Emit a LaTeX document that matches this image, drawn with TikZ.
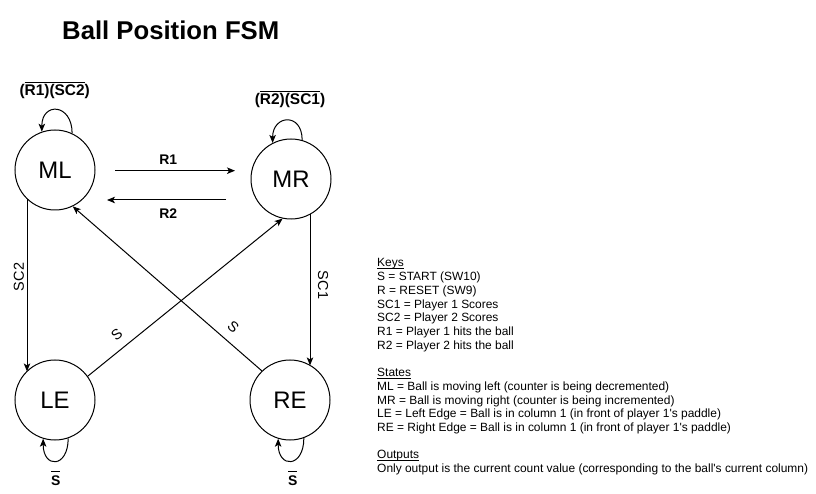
\documentclass[tikz,border=0pt]{standalone}
\usepackage{fontspec}
\setmainfont{Liberation Sans}[Ligatures=TeXOff]
\usetikzlibrary{arrows.meta}
\newcommand\ovl[2][1.8bp]{\leavevmode\vbox{\hrule height 0.9bp\kern #1\hbox{#2}}}
\newcommand\ulin[1]{\leavevmode\setbox0\hbox{#1}\rlap{\lower1.6bp\hbox to\wd0{\leaders\hrule height 0.7bp\hfill}}\box0}
\begin{document}
\begin{tikzpicture}[x=1bp,y=-1bp,
  state/.style={circle,draw,line width=1bp,minimum size=80bp,inner sep=0pt,
    font=\fontsize{24}{28}\selectfont},
  edge/.style={line width=1bp,-{Stealth[length=8bp,width=6.5bp,inset=2bp]}},
  looplbl/.style={font=\bfseries\fontsize{15.5}{18}\selectfont,inner sep=0pt,anchor=base},
  boldlbl/.style={font=\bfseries\fontsize{14}{16}\selectfont,inner sep=0pt,anchor=base},
  edgelbl/.style={font=\fontsize{14.5}{16}\selectfont,inner sep=0pt},
  keytext/.style={font=\fontsize{12}{14}\selectfont,inner sep=0pt,anchor=base west},
  titletext/.style={font=\bfseries\fontsize{25.8}{30}\selectfont,inner sep=0pt,anchor=base west}
]
\useasboundingbox[fill=white] (0,0) rectangle (816,494);

\node[titletext] (title) at (62,40) {Ball Position FSM};

\node[state] (ML) at (55,170) {ML};
\node[state] (MR) at (291,179) {MR};
\node[state] (LE) at (55,400) {LE};
\node[state] (RE) at (290,400) {RE};

% self loops
\draw[edge] (ML.65) .. controls +(0,-30) and +(0,-30) .. (ML.109);
\draw[edge] (MR.74) .. controls +(0,-28) and +(0,-28) .. (MR.117);
\draw[edge] (LE.-71) .. controls +(0,30) and +(0,30) .. (LE.-107);
\draw[edge] (RE.-70) .. controls +(0,30) and +(0,30) .. (RE.-107);

\node[looplbl] (lML) at (54.7,95.5) {(\ovl{R1)(SC2})};
\node[looplbl] (lMR) at (290,105) {(\ovl{R2)(SC1})};
\node[boldlbl] (lLE) at (55.7,485) {\ovl[3bp]{S}};
\node[boldlbl] (lRE) at (292.7,485) {\ovl[3bp]{S}};

% horizontal transitions
\coordinate (r1s) at (115,170.7);
\coordinate (r1e) at (235,170.7);
\coordinate (r2s) at (226,200);
\coordinate (r2e) at (107,200);
\draw[edge] (r1s) -- (r1e);
\draw[edge] (r2s) -- (r2e);
\node[boldlbl] (lR1) at (168.3,165) {R1};
\node[boldlbl] (lR2) at (168.3,218.3) {R2};

% vertical transitions
\path (ML.center) ++(-28,28.6) coordinate (sc2a) (LE.center) ++(-28,-28.6) coordinate (sc2b);
\draw[edge] (sc2a) -- (sc2b);
\path (MR.center) ++(19,35.2) coordinate (sc1a) (RE.center) ++(20,-34.6) coordinate (sc1b);
\draw[edge] (sc1a) -- (sc1b);
\node[edgelbl,rotate=90] (lSC2) at (19,277) {SC2};
\node[edgelbl,rotate=-90] (lSC1) at (323,285) {SC1};

% diagonal transitions
\draw[edge] (LE.36) -- (MR.258);
\draw[edge] (RE.134) -- (ML.-64);
\node[edgelbl,rotate=39] (lS1) at (116.7,335) {S};
\node[edgelbl,rotate=-41] (lS2) at (233.3,326.7) {S};

% legend
\foreach \t [count=\i] in {
  \ulin{Keys},
  S = START (SW10),
  R = RESET (SW9),
  SC1 = Player 1 Scores,
  SC2 = Player 2 Scores,
  R1 = Player 1 hits the ball,
  R2 = Player 2 hits the ball,
  {},
  \ulin{States},
  ML = Ball is moving left (counter is being decremented),
  MR = Ball is moving right (counter is being incremented),
  LE = Left Edge = Ball is in column 1 (in front of player 1's paddle),
  RE = Right Edge = Ball is in column 1 (in front of player 1's paddle),
  {},
  \ulin{Outputs},
  Only output is the current count value (corresponding to the ball's current column)}
  {\node[keytext] (key\i) at (377,{267+13.7*(\i-1)}) {\t};}
\end{tikzpicture}
\end{document}
